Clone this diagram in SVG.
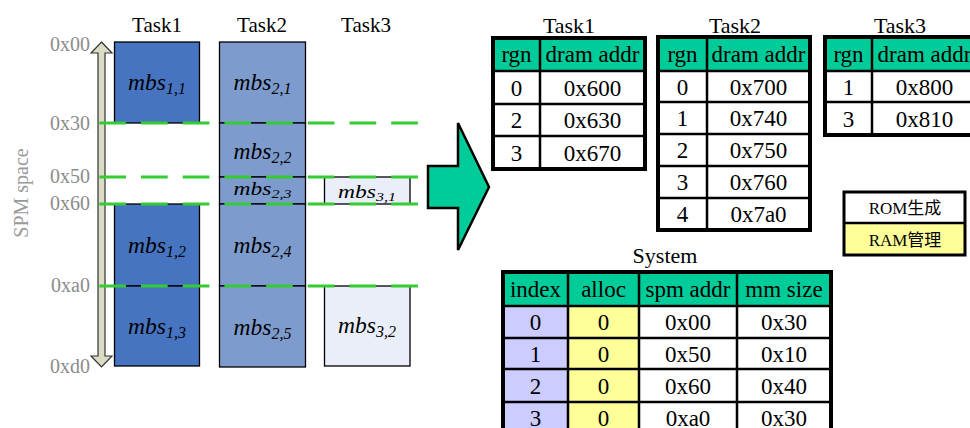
<svg xmlns="http://www.w3.org/2000/svg" width="970" height="428" viewBox="0 0 970 428" font-family="'Liberation Serif', 'Times New Roman', Times, 'DejaVu Serif', serif">
  <style>
    .tl { font-size: 21px; fill: #000; text-anchor: middle; }
    .addr { font-size: 20px; fill: #8c8c8c; text-anchor: end; }
    .axis { font-size: 20px; fill: #9a9a9a; text-anchor: middle; }
    .blk { stroke: #000; stroke-width: 1.3; }
    .t1 { fill: #4674c0; }
    .t2 { fill: #7d9ccd; }
    .t3 { fill: #e9eef8; }
    .mbs { font-size: 23.5px; font-style: italic; text-anchor: middle; fill: #000; }
    .sub { font-size: 16px; }
    .guide { stroke: #33cc33; stroke-width: 3; stroke-dasharray: 26.7 15; fill: none; }
    .title { font-size: 22px; text-anchor: middle; fill: #000; }
    .cell { font-size: 23px; text-anchor: middle; fill: #000; }
    .hdr { fill: #00cc99; }
    .outer { fill: none; stroke: #000; stroke-width: 4; }
    .inner { stroke: #000; stroke-width: 2.5; fill: none; }
    .idx { fill: #ccccff; }
    .alc { fill: #ffff99; }
    .legend { font-size: 17px; text-anchor: middle; fill: #000; }
  </style>

  <!-- SPM address axis -->
  <g id="spm-axis">
    <polygon points="101.5,42 112,53 105,53 105,356 112,356 101.5,367 91,356 98,356 98,53 91,53" fill="#dcdcc6" stroke="#333" stroke-width="1.2"/>
    <text class="axis" transform="translate(28,193) rotate(-90)">SPM space</text>
    <text class="addr" x="90" y="51">0x00</text>
    <text class="addr" x="90" y="130">0x30</text>
    <text class="addr" x="90" y="182.5">0x50</text>
    <text class="addr" x="90" y="210">0x60</text>
    <text class="addr" x="90" y="291.5">0xa0</text>
    <text class="addr" x="90" y="372.5">0xd0</text>
  </g>

  <!-- Task1 memory blocks -->
  <g id="task1-blocks">
    <text class="tl" x="157" y="31.7">Task1</text>
    <rect class="t1 blk" x="114.5" y="42" width="85" height="81"/>
    <rect class="t1 blk" x="114.5" y="204" width="85" height="82"/>
    <rect class="t1 blk" x="114.5" y="286" width="85" height="80"/>
    <text class="mbs" x="157" y="90">mbs<tspan class="sub" dy="4">1,1</tspan></text>
    <text class="mbs" x="157" y="253">mbs<tspan class="sub" dy="4">1,2</tspan></text>
    <text class="mbs" x="157" y="334">mbs<tspan class="sub" dy="4">1,3</tspan></text>
  </g>

  <!-- Task2 memory blocks -->
  <g id="task2-blocks">
    <text class="tl" x="262" y="32.3">Task2</text>
    <rect class="t2 blk" x="219.5" y="42" width="86" height="81"/>
    <rect class="t2 blk" x="219.5" y="123" width="86" height="54"/>
    <rect class="t2 blk" x="219.5" y="177" width="86" height="27"/>
    <rect class="t2 blk" x="219.5" y="204" width="86" height="82"/>
    <rect class="t2 blk" x="219.5" y="286" width="86" height="81"/>
    <text class="mbs" x="262.5" y="90">mbs<tspan class="sub" dy="4">2,1</tspan></text>
    <text class="mbs" x="262.5" y="159.3">mbs<tspan class="sub" dy="4">2,2</tspan></text>
    <text class="mbs" transform="translate(262.5,194.5) scale(1,0.8)">mbs<tspan class="sub" dy="4">2,3</tspan></text>
    <text class="mbs" x="262.5" y="252.7">mbs<tspan class="sub" dy="4">2,4</tspan></text>
    <text class="mbs" x="262.5" y="335">mbs<tspan class="sub" dy="4">2,5</tspan></text>
  </g>

  <!-- Task3 memory blocks -->
  <g id="task3-blocks">
    <text class="tl" x="366" y="31.7">Task3</text>
    <rect class="t3 blk" x="324.5" y="177" width="85.5" height="27"/>
    <rect class="t3 blk" x="324.5" y="286" width="85.5" height="80"/>
    <text class="mbs" transform="translate(367,198) scale(1,0.8)">mbs<tspan class="sub" dy="4">3,1</tspan></text>
    <text class="mbs" x="367" y="333.3">mbs<tspan class="sub" dy="4">3,2</tspan></text>
  </g>

  <!-- region boundaries across all tasks -->
  <g id="region-guides">
    <line class="guide" x1="99.3" y1="123" x2="418" y2="123"/>
    <line class="guide" x1="99.3" y1="177" x2="418" y2="177"/>
    <line class="guide" x1="99.3" y1="204" x2="418" y2="204"/>
    <line class="guide" x1="99.3" y1="286" x2="418" y2="286"/>
  </g>

  <!-- block arrow from layout to tables -->
  <g id="connectors">
    <polygon points="428,166 458,166 458,123 489,187 458,250 458,208 428,208" fill="#00cc99" stroke="#000" stroke-width="2.5" stroke-linejoin="miter"/>
  </g>

  <!-- Task1 region table -->
  <g id="table-task1">
    <text class="title" x="569" y="33.3">Task1</text>
    <rect x="493" y="38" width="152" height="131" fill="#fff"/>
    <rect class="hdr" x="493" y="38" width="152" height="33"/>
    <path class="inner" d="M493,71H645M493,104H645M493,136H645M540,38V169"/>
    <rect class="outer" x="493" y="38" width="152" height="131"/>
    <text class="cell" x="516.5" y="62">rgn</text>
    <text class="cell" x="592.5" y="62">dram addr</text>
    <text class="cell" x="516.5" y="95.5">0</text>
    <text class="cell" x="592.5" y="95.5">0x600</text>
    <text class="cell" x="516.5" y="128">2</text>
    <text class="cell" x="592.5" y="128">0x630</text>
    <text class="cell" x="516.5" y="160.5">3</text>
    <text class="cell" x="592.5" y="160.5">0x670</text>
  </g>

  <!-- Task2 region table -->
  <g id="table-task2">
    <text class="title" x="735" y="33.3">Task2</text>
    <rect x="658" y="37" width="152" height="193" fill="#fff"/>
    <rect class="hdr" x="658" y="37" width="152" height="34"/>
    <path class="inner" d="M658,71H810M658,102H810M658,134H810M658,166H810M658,198H810M707,37V230"/>
    <rect class="outer" x="658" y="37" width="152" height="193"/>
    <text class="cell" x="682.5" y="62">rgn</text>
    <text class="cell" x="758.5" y="62">dram addr</text>
    <text class="cell" x="682.5" y="94.5">0</text>
    <text class="cell" x="758.5" y="94.5">0x700</text>
    <text class="cell" x="682.5" y="126">1</text>
    <text class="cell" x="758.5" y="126">0x740</text>
    <text class="cell" x="682.5" y="158">2</text>
    <text class="cell" x="758.5" y="158">0x750</text>
    <text class="cell" x="682.5" y="190">3</text>
    <text class="cell" x="758.5" y="190">0x760</text>
    <text class="cell" x="682.5" y="222">4</text>
    <text class="cell" x="758.5" y="222">0x7a0</text>
  </g>

  <!-- Task3 region table -->
  <g id="table-task3">
    <text class="title" x="900" y="33.3">Task3</text>
    <rect x="825" y="37" width="152" height="98" fill="#fff"/>
    <rect class="hdr" x="825" y="37" width="152" height="34"/>
    <path class="inner" d="M825,71H977M825,102H977M872,37V135"/>
    <rect class="outer" x="825" y="37" width="152" height="98"/>
    <text class="cell" x="848.5" y="62">rgn</text>
    <text class="cell" x="924.5" y="62">dram addr</text>
    <text class="cell" x="848.5" y="94.5">1</text>
    <text class="cell" x="924.5" y="94.5">0x800</text>
    <text class="cell" x="848.5" y="126.5">3</text>
    <text class="cell" x="924.5" y="126.5">0x810</text>
  </g>

  <!-- legend -->
  <g id="legend" font-family="'Liberation Serif', 'Noto Sans CJK SC', serif">
    <rect x="844" y="192" width="121" height="31" fill="#fff"/>
    <rect class="alc" x="844" y="223" width="121" height="32"/>
    <path class="inner" d="M844,223H965"/>
    <rect x="844" y="192" width="121" height="63" fill="none" stroke="#000" stroke-width="3"/>
    <text class="legend" x="905" y="214">ROM生成</text>
    <text class="legend" x="905" y="245.5">RAM管理</text>
  </g>

  <!-- System region table -->
  <g id="table-system">
    <text class="title" x="665" y="262.7">System</text>
    <rect x="503" y="272" width="328" height="162" fill="#fff"/>
    <rect class="hdr" x="503" y="272" width="328" height="34"/>
    <rect class="idx" x="503" y="306" width="65" height="128"/>
    <rect class="alc" x="568" y="306" width="71" height="128"/>
    <path class="inner" d="M503,306H831M503,338H831M503,369H831M503,402H831M568,272V434M639,272V434M737,272V434"/>
    <rect class="outer" x="503" y="272" width="328" height="162"/>
    <text class="cell" x="535.5" y="297">index</text>
    <text class="cell" x="603.5" y="297">alloc</text>
    <text class="cell" x="688" y="297">spm addr</text>
    <text class="cell" x="784" y="297">mm size</text>
    <text class="cell" x="535.5" y="330">0</text>
    <text class="cell" x="603.5" y="330">0</text>
    <text class="cell" x="688" y="330">0x00</text>
    <text class="cell" x="784" y="330">0x30</text>
    <text class="cell" x="535.5" y="361.5">1</text>
    <text class="cell" x="603.5" y="361.5">0</text>
    <text class="cell" x="688" y="361.5">0x50</text>
    <text class="cell" x="784" y="361.5">0x10</text>
    <text class="cell" x="535.5" y="393.5">2</text>
    <text class="cell" x="603.5" y="393.5">0</text>
    <text class="cell" x="688" y="393.5">0x60</text>
    <text class="cell" x="784" y="393.5">0x40</text>
    <text class="cell" x="535.5" y="426">3</text>
    <text class="cell" x="603.5" y="426">0</text>
    <text class="cell" x="688" y="426">0xa0</text>
    <text class="cell" x="784" y="426">0x30</text>
  </g>
</svg>
